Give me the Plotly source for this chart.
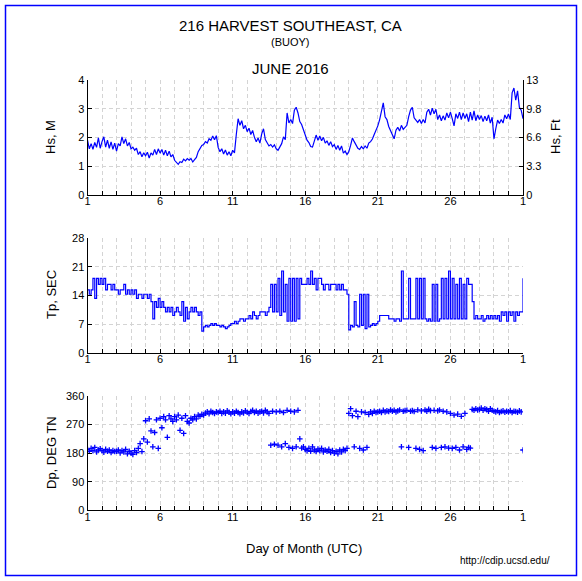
import plotly.graph_objects as go

# ---------------- data (3-hourly samples, June 1 00:00 UTC -> July 1 00:00 UTC) ----------------
SAMPLES_PER_DAY = 8

HS_M = [
    1.90, 1.60, 1.78, 1.58, 1.82, 1.65, 1.98, 1.62,
    1.85, 2.02, 1.66, 1.90, 1.62, 1.84, 1.58, 1.80,
    1.52, 1.78, 1.70, 2.02, 1.78, 1.95, 1.70, 1.82,
    1.60, 1.66, 1.55, 1.62, 1.40, 1.50, 1.32, 1.46,
    1.36, 1.48, 1.28, 1.46, 1.38, 1.58, 1.40, 1.60,
    1.45, 1.58, 1.38, 1.55, 1.36, 1.52, 1.32, 1.40,
    1.20, 1.12, 1.06, 1.15, 1.12, 1.24, 1.18, 1.26,
    1.20, 1.26, 1.14, 1.22, 1.30, 1.50, 1.62, 1.72,
    1.75, 1.85, 1.80, 1.95, 1.90, 2.05, 1.92, 2.06,
    1.65, 1.50, 1.60, 1.42, 1.56, 1.38, 1.50, 1.36,
    1.55, 1.46, 2.10, 2.65, 2.42, 2.58, 2.30, 2.42,
    2.20, 2.32, 2.10, 2.24, 2.00, 1.85, 1.98, 1.80,
    2.12, 2.30, 1.92, 1.82, 1.70, 1.75, 1.66, 1.74,
    1.60, 1.55, 1.65, 1.78, 2.02, 1.92, 2.85, 2.50,
    2.62, 2.48, 2.95, 3.05, 2.85, 2.55, 2.45, 2.25,
    2.02, 1.90, 1.82, 1.68, 1.66, 1.92, 2.08, 1.90,
    2.05, 1.88, 2.00, 1.80, 1.88, 1.72, 1.85, 1.68,
    1.75, 1.58, 1.72, 1.55, 1.70, 1.45, 1.52, 1.40,
    1.50, 1.72, 1.98, 1.85, 1.75, 1.62, 1.58, 1.68,
    1.60, 1.70, 1.62, 1.80, 1.85, 1.94, 2.10, 2.25,
    2.40, 2.62, 2.90, 3.20, 2.72, 2.62, 2.38, 2.25,
    2.10, 1.95, 2.25, 2.35, 2.22, 2.42, 2.28, 2.36,
    2.42, 2.72, 2.95, 3.05, 2.68, 2.60, 2.52, 2.62,
    2.48, 2.62, 2.50, 2.88, 2.98, 2.78, 3.02, 2.82,
    2.98, 2.62, 2.78, 2.58, 2.75, 2.60, 2.85, 2.68,
    2.88, 2.65, 2.40, 2.82, 2.66, 2.88, 2.62, 2.85,
    2.66, 2.82, 2.55, 2.88, 2.60, 2.92, 2.58, 2.78,
    2.62, 2.76, 2.55, 2.74, 2.58, 2.78, 2.50, 2.70,
    1.95, 2.30, 2.60, 2.48, 2.62, 2.50, 2.78, 2.65,
    2.82, 2.62, 3.55, 3.72, 3.30, 3.62, 3.05, 2.95,
    2.65,
]

TP_SEC = [
    15.4, 14.3, 15.4, 18.2, 13.3, 18.2, 16.7, 18.2,
    16.7, 18.2, 15.4, 16.7, 16.7, 15.4, 16.7, 15.4,
    15.4, 14.3, 15.4, 15.4, 16.7, 14.3, 15.4, 14.3,
    15.4, 14.3, 15.4, 13.3, 14.3, 14.3, 13.3, 14.3,
    14.3, 13.3, 14.3, 12.5, 8.3, 12.5, 11.1, 13.3,
    11.1, 12.5, 11.1, 10.0, 11.1, 10.0, 11.1, 9.1,
    10.0, 11.1, 10.0, 9.1, 12.5, 7.7, 11.1, 8.3,
    10.0, 11.1, 10.0, 11.1, 10.0, 9.1, 10.0, 5.3,
    6.3, 6.7, 6.3, 6.7, 7.1, 6.7, 7.1, 6.7,
    6.7, 6.3, 6.7, 6.3, 5.9, 6.3, 6.7, 7.1,
    7.1, 7.7, 7.1, 7.7, 8.3, 8.3, 7.7, 8.3,
    8.3, 9.1, 8.3, 10.0, 9.1, 8.3, 9.1, 10.0,
    10.0, 10.0, 9.1, 10.0, 11.1, 16.7, 10.0, 16.7,
    10.0, 18.2, 9.1, 20.0, 10.0, 16.7, 7.7, 18.2,
    7.7, 18.2, 7.7, 18.2, 8.3, 18.2, 16.7, 16.7,
    16.7, 18.2, 16.7, 20.0, 16.7, 18.2, 15.4, 18.2,
    18.2, 16.7, 15.4, 16.7, 16.7, 15.4, 16.7, 16.7,
    16.7, 15.4, 16.7, 15.4, 16.7, 15.4, 15.4, 14.3,
    5.6, 6.7, 6.3, 12.5, 6.7, 6.3, 14.3, 6.7,
    14.3, 5.9, 14.3, 6.3, 6.7, 7.1, 6.7, 7.1,
    7.7, 9.1, 9.1, 9.1, 9.1, 9.1, 8.3, 8.3,
    8.3, 7.7, 8.3, 8.3, 7.7, 20.0, 8.3, 8.3,
    8.3, 18.2, 8.3, 8.3, 8.3, 18.2, 8.3, 18.2,
    8.3, 18.2, 8.3, 7.7, 8.3, 7.7, 16.7, 7.7,
    16.7, 7.7, 8.3, 18.2, 8.3, 18.2, 8.3, 20.0,
    8.3, 18.2, 8.3, 16.7, 8.3, 18.2, 8.3, 16.7,
    8.3, 18.2, 16.7, 16.7, 12.5, 8.3, 9.1, 8.3,
    8.3, 9.1, 7.7, 8.3, 9.1, 8.3, 9.1, 8.3,
    9.1, 8.3, 9.1, 7.7, 10.0, 9.1, 10.0, 7.7,
    10.0, 9.1, 10.0, 7.7, 10.0, 9.1, 10.0, 10.0,
    18.2,
]

DP_DEG = [
    192, 186, 195, 188, 198, 184, 190, 194,
    188, 183, 192, 186, 190, 182, 188, 185,
    186, 190, 181, 188, 184, 192, 178, 186,
    180, 176, 188, 182, 195, 210, 185, 225,
    282, 215, 288, 250, 200, 245, 285, 195,
    290, 260, 295, 285, 230, 298, 288, 280,
    295, 285, 300, 252, 290, 242, 298, 280,
    275, 290, 285, 295, 288, 300, 296, 302,
    300, 306, 310, 304, 312, 308, 305, 310,
    308, 312, 305, 310, 306, 313, 309, 304,
    310, 306, 312, 308, 304, 310, 307, 313,
    309, 305, 311, 315, 308, 312, 306, 310,
    312, 307, 315, 310, 305, 205, 312, 208,
    310, 205, 312, 200, 308, 210, 315, 198,
    312, 195, 310, 200, 315, 225, 196, 200,
    192, 188, 195, 186, 200, 190, 185, 193,
    188, 195, 184, 190, 186, 192, 182, 188,
    180, 186, 178, 190, 184, 192, 188, 195,
    305, 320, 298, 200, 312, 295, 195, 310,
    190, 308, 198, 302, 310, 305, 312, 308,
    310, 312, 308, 315, 310, 313, 311, 316,
    312, 315, 310, 313, 316, 200, 312, 314,
    315, 198, 312, 314, 311, 195, 316, 192,
    313, 188, 316, 312, 318, 314, 198, 315,
    195, 313, 316, 198, 312, 200, 310, 196,
    305, 195, 300, 198, 303, 190, 296, 200,
    305, 192, 198, 196, 318, 315, 320, 316,
    318, 322, 315, 320, 317, 312, 320, 315,
    312, 310, 314, 308, 311, 313, 309, 312,
    310, 314, 308, 312, 311, 309, 313, 310,
    190,
]

X_TICK_VALS = [1, 6, 11, 16, 21, 26, 31]
X_TICK_TEXT = ["1", "6", "11", "16", "21", "26", "1"]
HS_FT_TICK_TEXT = ["0", "3.3", "6.6", "9.8", "13"]
M_TO_FT = 3.2808

DAY = [1 + i / SAMPLES_PER_DAY for i in range(len(HS_M))]

# ---------------- layout helpers ----------------
W, H = 582, 581
FONT = "Liberation Sans, Arial, Helvetica, sans-serif"
BLUE = "#0000ff"
GRID = "#d4d4d4"


def px_x(p):
    return p / W


def px_y(p):
    return 1 - p / H


X_LEFT, X_RIGHT = 87.5, 523.0
PANELS = [(80.0, 194.7), (238.3, 352.7), (396.0, 510.3)]

fig = go.Figure()

fig.add_trace(go.Scatter(x=DAY, y=HS_M, mode="lines", line=dict(color=BLUE, width=1.2),
                         xaxis="x", yaxis="y", hoverinfo="skip", showlegend=False))
fig.add_trace(go.Scatter(x=DAY, y=[v * M_TO_FT for v in HS_M], mode="lines", opacity=0,
                         line=dict(color=BLUE, width=1), xaxis="x", yaxis="y4",
                         hoverinfo="skip", showlegend=False))
fig.add_trace(go.Scatter(x=DAY, y=TP_SEC, mode="lines", line=dict(color=BLUE, width=1.2, shape="hv"),
                         xaxis="x2", yaxis="y2", hoverinfo="skip", showlegend=False))
fig.add_trace(go.Scatter(x=DAY, y=DP_DEG, mode="markers",
                         marker=dict(symbol="cross-thin", size=4, color=BLUE,
                                     line=dict(width=1.3, color=BLUE)),
                         xaxis="x3", yaxis="y3", hoverinfo="skip", showlegend=False))

common_x = dict(
    range=[1, 31], tickmode="array", tickvals=X_TICK_VALS, ticktext=X_TICK_TEXT,
    ticks="inside", ticklen=4, tickcolor="black", showline=True, linecolor="black",
    linewidth=1, showgrid=True, gridcolor=GRID, griddash="4px,3px", gridwidth=1,
    zeroline=False, tickfont=dict(family=FONT, size=11, color="black"),
    ticklabelstandoff=-4,
    minor=dict(tickmode="linear", tick0=1, dtick=1, ticks="inside", ticklen=4,
               tickcolor="black", showgrid=True, gridcolor=GRID, griddash="4px,3px"),
    domain=[px_x(X_LEFT), px_x(X_RIGHT)], fixedrange=True,
)

common_y = dict(
    ticks="inside", ticklen=4, tickcolor="black", showline=True, linecolor="black",
    linewidth=1, showgrid=True, gridcolor=GRID, griddash="4px,3px", gridwidth=1,
    zeroline=False, tickfont=dict(family=FONT, size=11, color="black"), fixedrange=True,
)

layout = dict(
    width=W, height=H, margin=dict(l=0, r=0, t=0, b=0, autoexpand=False),
    paper_bgcolor="white", plot_bgcolor="white", showlegend=False,
    font=dict(family=FONT, color="black"),
)
layout["xaxis"] = dict(common_x, anchor="y")
layout["xaxis2"] = dict(common_x, anchor="y2")
layout["xaxis3"] = dict(common_x, anchor="y3")
layout["yaxis"] = dict(common_y, anchor="x", range=[0, 4], tickvals=[0, 1, 2, 3, 4],
                       domain=[px_y(PANELS[0][1]), px_y(PANELS[0][0])])
layout["yaxis4"] = dict(common_y, anchor="x", overlaying="y", side="right",
                        range=[0, 4 * M_TO_FT], tickmode="array",
                        tickvals=[k * M_TO_FT for k in range(5)], ticktext=HS_FT_TICK_TEXT,
                        showgrid=False)
layout["yaxis2"] = dict(common_y, anchor="x2", range=[0, 28], tickvals=[0, 7, 14, 21, 28],
                        domain=[px_y(PANELS[1][1]), px_y(PANELS[1][0])])
layout["yaxis3"] = dict(common_y, anchor="x3", range=[0, 360], tickvals=[0, 90, 180, 270, 360],
                        domain=[px_y(PANELS[2][1]), px_y(PANELS[2][0])])

fig.update_layout(**layout)

# frame
fig.add_shape(type="rect", xref="paper", yref="paper",
              x0=px_x(5.5), x1=px_x(576.5), y0=px_y(575.5), y1=px_y(5.5),
              line=dict(color=BLUE, width=1.5), fillcolor="rgba(0,0,0,0)")


def text(x, y, s, size, angle=0, xanchor="center"):
    fig.add_annotation(x=px_x(x), y=px_y(y), xref="paper", yref="paper", text=s,
                       showarrow=False, textangle=angle, xanchor=xanchor, yanchor="middle",
                       font=dict(family=FONT, size=size, color="black"))


text(290, 25, "216 HARVEST SOUTHEAST, CA", 15)
text(290, 42, "(BUOY)", 11)
text(290, 69, "JUNE 2016", 15)
text(51, 137, "Hs, M", 13, angle=-90)
text(556, 137, "Hs, Ft", 13, angle=-90)
text(51, 295, "Tp, SEC", 13, angle=-90)
text(51, 453, "Dp, DEG TN", 13, angle=-90)
text(304, 548, "Day of Month (UTC)", 13)
text(505, 560, "http://cdip.ucsd.edu/", 10)

fig.write_html("out.html", config={"displayModeBar": False},
               post_script="document.body.style.margin='0';document.body.style.overflow='hidden';")
